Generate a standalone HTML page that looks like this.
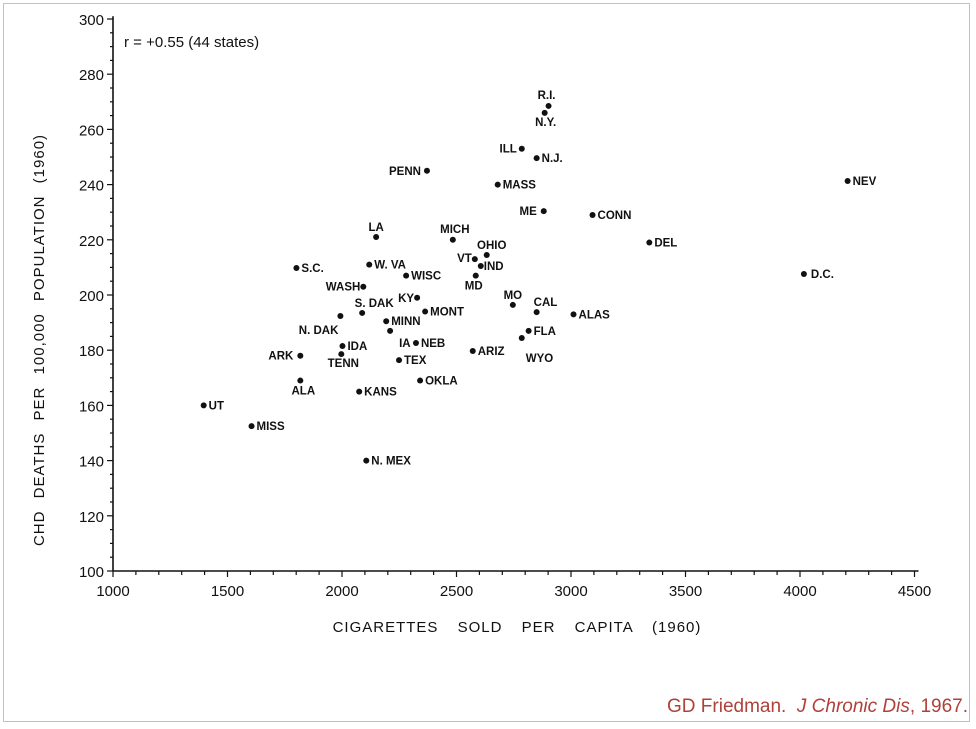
<!DOCTYPE html>
<html><head><meta charset="utf-8"><style>
html,body{margin:0;padding:0;background:#fff;}
#wrap{position:relative;width:976px;height:729px;overflow:hidden;}
#frame{position:absolute;left:3px;top:3px;width:965px;height:717px;border:1.5px solid #f0c438;}
svg{position:absolute;left:0;top:0;}
svg text{font-family:"Liberation Sans",sans-serif;fill:#111;}
#cite{position:absolute;right:8px;top:696px;font-family:"Liberation Sans",sans-serif;font-size:19px;color:#b0403a;}
</style></head><body>
<div id="wrap">
<div id="frame"></div>
<svg id="chart" width="976" height="729"></svg>
<div id="cite">GD Friedman.&nbsp; <i>J Chronic Dis</i>, 1967.</div>
</div>
<script>
const states=["UT","MISS","N. MEX","ALA","ARK","KANS","OKLA","TENN","IDA","IA","MINN","TEX","NEB","ARIZ","WYO","FLA","ALAS","CAL","MO","MONT","KY","N. DAK","S. DAK","WASH","WISC","W. VA","S.C.","LA","MICH","OHIO","VT","IND","MD","PENN","MASS","ILL","N.J.","R.I.","N.Y.","ME","CONN","DEL","NEV","D.C."];
const cigs=[1396,1605,2106,1818,1818,2075,2341,1997,2002,2210,2193,2249,2323,2571,2785,2815,3011,2850,2746,2363,2328,1993,2088,2093,2280,2119,1801,2149,2484,2632,2580,2606,2584,2371,2680,2785,2850,2902,2885,2881,3094,3342,4208,4017];
const deaths=[160,152.5,140,169,178,165,169,178.6,181.5,187,190.5,176.4,182.6,179.7,184.4,187,193,193.8,196.4,194,199,192.4,193.5,203,207,211,209.8,221,220,214.5,213,210.5,207,245,240,253,249.6,268.5,266,230.4,229,219,241.3,207.6];
const xTicks=[1000,1500,2000,2500,3000,3500,4000,4500];
const yTicks=[100,120,140,160,180,200,220,240,260,280,300];
const lab={"UT":[5,4,"start"],"MISS":[5,4,"start"],"N. MEX":[5,4,"start"],"ALA":[3,14,"middle"],"ARK":[-7,4,"end"],"KANS":[5,4,"start"],"OKLA":[5,4,"start"],"TENN":[2,13,"middle"],"IDA":[5,4,"start"],"IA":[9,16,"start"],"MINN":[5,4,"start"],"TEX":[5,4,"start"],"NEB":[5,4,"start"],"ARIZ":[5,4,"start"],"WYO":[4,24,"start"],"FLA":[5,4,"start"],"ALAS":[5,4,"start"],"CAL":[-3,-6,"start"],"MO":[0,-6,"middle"],"MONT":[5,4,"start"],"KY":[-3,4,"end"],"N. DAK":[-2,18,"end"],"S. DAK":[12,-6,"middle"],"WASH":[-3,4,"end"],"WISC":[5,4,"start"],"W. VA":[5,4,"start"],"S.C.":[5,4,"start"],"LA":[0,-6,"middle"],"MICH":[2,-7,"middle"],"OHIO":[5,-6,"middle"],"VT":[-3,3,"end"],"IND":[3,4,"start"],"MD":[-2,14,"middle"],"PENN":[-6,4,"end"],"MASS":[5,4,"start"],"ILL":[-5,4,"end"],"N.J.":[5,4,"start"],"R.I.":[-2,-7,"middle"],"N.Y.":[1,13,"middle"],"ME":[-7,4,"end"],"CONN":[5,4,"start"],"DEL":[5,4,"start"],"NEV":[5,4,"start"],"D.C.":[7,4,"start"]};
const X=v=>113+(v-1000)*0.229;
const Y=v=>571-(v-100)*2.76;
const svg=document.getElementById('chart');
const NS='http://www.w3.org/2000/svg';
function mk(t,a,txt){const e=document.createElementNS(NS,t);for(const k in a)e.setAttribute(k,a[k]);if(txt!==undefined)e.textContent=txt;svg.appendChild(e);return e;}
let e;
e=mk('line',{x1:X(1000),y1:Y(100),x2:X(4500)+4,y2:Y(100),stroke:'#111','stroke-width':1.6});


e=mk('line',{x1:X(1000),y1:Y(100),x2:X(1000),y2:Y(301),stroke:'#111','stroke-width':1.6});


for(let v=1000;v<=4500;v+=100){e=mk('line',{x1:X(v),y1:Y(100),x2:X(v),y2:Y(100)+(v%500===0?6:4),stroke:'#111','stroke-width':1.2});

}
xTicks.forEach(v=>{e=mk('text',{x:X(v),y:596,'text-anchor':'middle','font-size':15},String(v));

});
for(let v=100;v<=300;v+=5){e=mk('line',{x1:X(1000),y1:Y(v),x2:X(1000)-(v%20===0?6:3),y2:Y(v),stroke:'#111','stroke-width':1.2});

}
yTicks.forEach(v=>{e=mk('text',{x:104,y:Y(v)+6,'text-anchor':'end','font-size':15},String(v));

});
e=mk('text',{x:517,y:632,'text-anchor':'middle','font-size':15,'letter-spacing':1,'word-spacing':14},'CIGARETTES SOLD PER CAPITA (1960)');


e=mk('text',{x:0,y:0,'text-anchor':'middle','font-size':15,'letter-spacing':1,'word-spacing':7,transform:'translate(44,340) rotate(-90)'},'CHD DEATHS PER 100,000 POPULATION (1960)');


e=mk('text',{x:124,y:47,'font-size':15},'r = +0.55 (44 states)');


states.forEach((s,i)=>{const cx=X(cigs[i]),cy=Y(deaths[i]);
e=mk('circle',{cx:cx,cy:cy,r:3,fill:'#111'});


const o=lab[s]||[5,4,'start'];
e=mk('text',{x:cx+o[0],y:cy+o[1],'text-anchor':o[2],'font-size':11.5,'font-weight':'bold'},s);

});
</script>
</body></html>
